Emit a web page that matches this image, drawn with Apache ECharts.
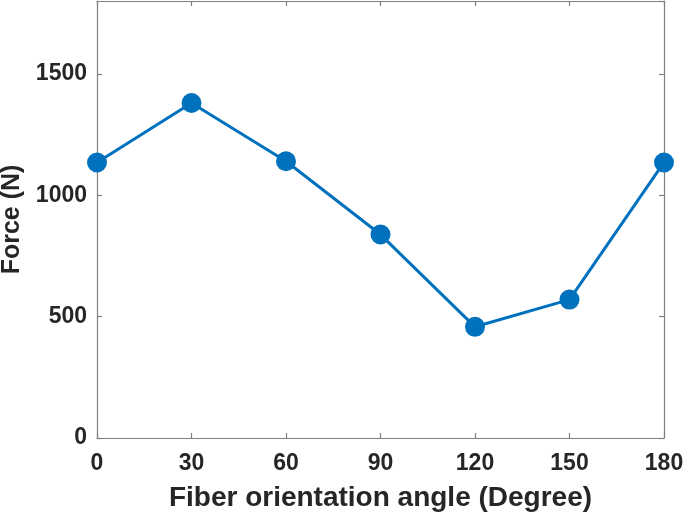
<!DOCTYPE html>
<html>
<head>
<meta charset="utf-8">
<script src="https://cdn.jsdelivr.net/npm/echarts@6/dist/echarts.min.js"></script>
<style>
  html, body { margin: 0; padding: 0; background: #fff; }
  #chart { width: 685px; height: 516px; }
</style>
</head>
<body>
<div id="chart"></div>
<script>
// fiber angle (degree) vs force (N)
const angles = [0, 30, 60, 90, 120, 150, 180]
const forces = [1135, 1380, 1140, 838, 458, 570, 1135]
const xTitle = 'Fiber orientation angle (Degree)'
const yTitle = 'Force (N)'

const lineColor = '#0072BD'
const axisGray = '#7f7f7f'
const textColor = '#262626'
const fontFam = 'Liberation Sans, Arial, sans-serif'

const points = angles.map((a, i) => [a, forces[i]])
const plain = v => String(v)

let axisBase = {
  axisLine: { show: true, onZero: false, lineStyle: { color: axisGray, width: 1.2 } },
  axisTick: { show: true, inside: true, length: 5, lineStyle: { color: axisGray, width: 1.2 } },
  splitLine: { show: false }
}

let chart = echarts.init(document.getElementById('chart'))
chart.setOption({
  animation: false,
  grid: { left: 97, right: 21, top: 1, bottom: 78, containLabel: false, outerBoundsMode: 'none' },
  xAxis: [
    Object.assign({
      type: 'value', min: 0, max: 180, interval: 30, position: 'bottom',
      name: xTitle, nameLocation: 'middle', nameGap: 46,
      nameTextStyle: { fontSize: 28, fontWeight: 'bold', color: textColor, fontFamily: fontFam },
      axisLabel: { margin: 14, fontSize: 23, fontWeight: 'bold', color: textColor, fontFamily: fontFam, formatter: plain }
    }, axisBase),
    Object.assign({
      type: 'value', min: 0, max: 180, interval: 30, position: 'top',
      axisLabel: { show: false }
    }, axisBase)
  ],
  yAxis: [
    Object.assign({
      type: 'value', min: 0, max: 1800, interval: 500, position: 'left',
      name: yTitle, nameLocation: 'middle', nameGap: 69, nameRotate: 90,
      nameTextStyle: { fontSize: 25, fontWeight: 'bold', color: textColor, fontFamily: fontFam },
      axisLabel: { margin: 10, fontSize: 23, fontWeight: 'bold', color: textColor, fontFamily: fontFam, showMaxLabel: false, formatter: plain }
    }, axisBase),
    Object.assign({
      type: 'value', min: 0, max: 1800, interval: 500, position: 'right',
      axisLabel: { show: false }
    }, axisBase)
  ],
  series: [{
    type: 'line',
    data: points,
    symbol: 'circle',
    symbolSize: 20,
    lineStyle: { color: lineColor, width: 3 },
    itemStyle: { color: lineColor },
    z: 3
  }]
})
</script>
</body>
</html>
